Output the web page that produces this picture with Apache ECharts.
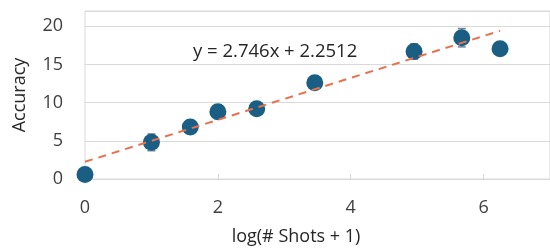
<!DOCTYPE html>
<html>
<head>
<meta charset="utf-8">
<script src="https://cdn.jsdelivr.net/npm/echarts@6/dist/echarts.min.js"></script>
<style>
  html, body { margin: 0; padding: 0; background: #fff; }
  #chart { width: 550px; height: 251px; }
</style>
</head>
<body>
<div id="chart"></div>
<script>
// data
var shotsX = [0, 1, 1.585, 2, 2.585, 3.459, 4.954, 5.672, 6.248];
var accuracy = [0.6, 4.8, 6.8, 8.8, 9.2, 12.6, 16.7, 18.5, 17.05];
var errBars = [0, 1.1, 0.5, 0.9, 0.4, 0.5, 1.0, 1.2, 0];
var yTicks = [0, 5, 10, 15, 20];
var xTicks = [0, 2, 4, 6];
// trendline from the equation shown on the chart
var slope = 2.746;
var intercept = 2.2512;

window.onload = function () {
    var myChart = echarts.init(document.getElementById('chart'));

    var points = shotsX.map(function (x, i) { return [x, accuracy[i]]; });
    var errs = shotsX.map(function (x, i) { return [x, accuracy[i], errBars[i]]; });
    var xEnd = shotsX[shotsX.length - 1];
    var trend = [[0, intercept], [xEnd, slope * xEnd + intercept]];

    var font = '"Open Sans", "Noto Sans", sans-serif';

    var option = {
        animation: false,
        grid: {
            left: 85,
            top: 11,
            width: 467,
            height: 172,
            show: true,
            borderColor: '#d9d9d9',
            borderWidth: 1
        },
        graphic: [{
            type: 'text',
            left: 193,
            top: 42,
            style: {
                text: 'y = 2.746x + 2.2512',
                font: '18.5px ' + font,
                fill: '#262626'
            }
        }],
        xAxis: {
            type: 'value',
            min: 0,
            max: 7,
            interval: 2,
            name: 'log(# Shots + 1)',
            nameLocation: 'middle',
            nameGap: 49,
            nameTextStyle: {
                fontFamily: font,
                fontSize: 18,
                color: '#262626',
                padding: [0, 43, 0, 0]
            },
            axisLine: { lineStyle: { color: '#d9d9d9', width: 1 } },
            axisTick: { show: true, inside: true, length: 5, lineStyle: { color: '#d9d9d9' } },
            axisLabel: {
                margin: 20,
                fontFamily: font,
                fontSize: 18,
                color: '#404040',
                showMaxLabel: false,
                formatter: function (v) { return xTicks.indexOf(v) >= 0 ? v : ''; }
            },
            splitLine: { show: false }
        },
        yAxis: {
            type: 'value',
            min: 0,
            max: 22,
            interval: 5,
            name: 'Accuracy',
            nameLocation: 'middle',
            nameGap: 56,
            nameTextStyle: {
                fontFamily: font,
                fontSize: 18,
                color: '#262626'
            },
            axisLine: { show: false },
            axisTick: { show: false },
            axisLabel: {
                margin: 22,
                fontFamily: font,
                fontSize: 18,
                color: '#404040',
                formatter: function (v) { return yTicks.indexOf(v) >= 0 ? v : ''; }
            },
            splitLine: { lineStyle: { color: '#d9d9d9', width: 1 } }
        },
        series: [
            {
                // error bars
                type: 'custom',
                z: 1,
                data: errs,
                renderItem: function (params, api) {
                    var x = api.value(0), y = api.value(1), e = api.value(2);
                    if (!e) return null;
                    var top = api.coord([x, y + e]);
                    var bot = api.coord([x, y - e]);
                    var c = 4;
                    var st = { stroke: '#71879a', lineWidth: 1.5 };
                    return {
                        type: 'group',
                        children: [
                            { type: 'line', shape: { x1: top[0], y1: top[1], x2: bot[0], y2: bot[1] }, style: st },
                            { type: 'line', shape: { x1: top[0] - c, y1: top[1], x2: top[0] + c, y2: top[1] }, style: st },
                            { type: 'line', shape: { x1: bot[0] - c, y1: bot[1], x2: bot[0] + c, y2: bot[1] }, style: st }
                        ]
                    };
                }
            },
            {
                type: 'scatter',
                z: 2,
                symbol: 'circle',
                symbolSize: 17,
                itemStyle: { color: '#1b5e84', opacity: 1 },
                data: points
            },
            {
                // linear trendline
                type: 'line',
                z: 3,
                symbol: 'none',
                lineStyle: { color: '#e8714f', width: 2, type: [8, 6] },
                data: trend
            }
        ]
    };

    myChart.setOption(option);
    window.addEventListener('resize', function () {
        myChart.resize();
    });
};
</script>
</body>
</html>
